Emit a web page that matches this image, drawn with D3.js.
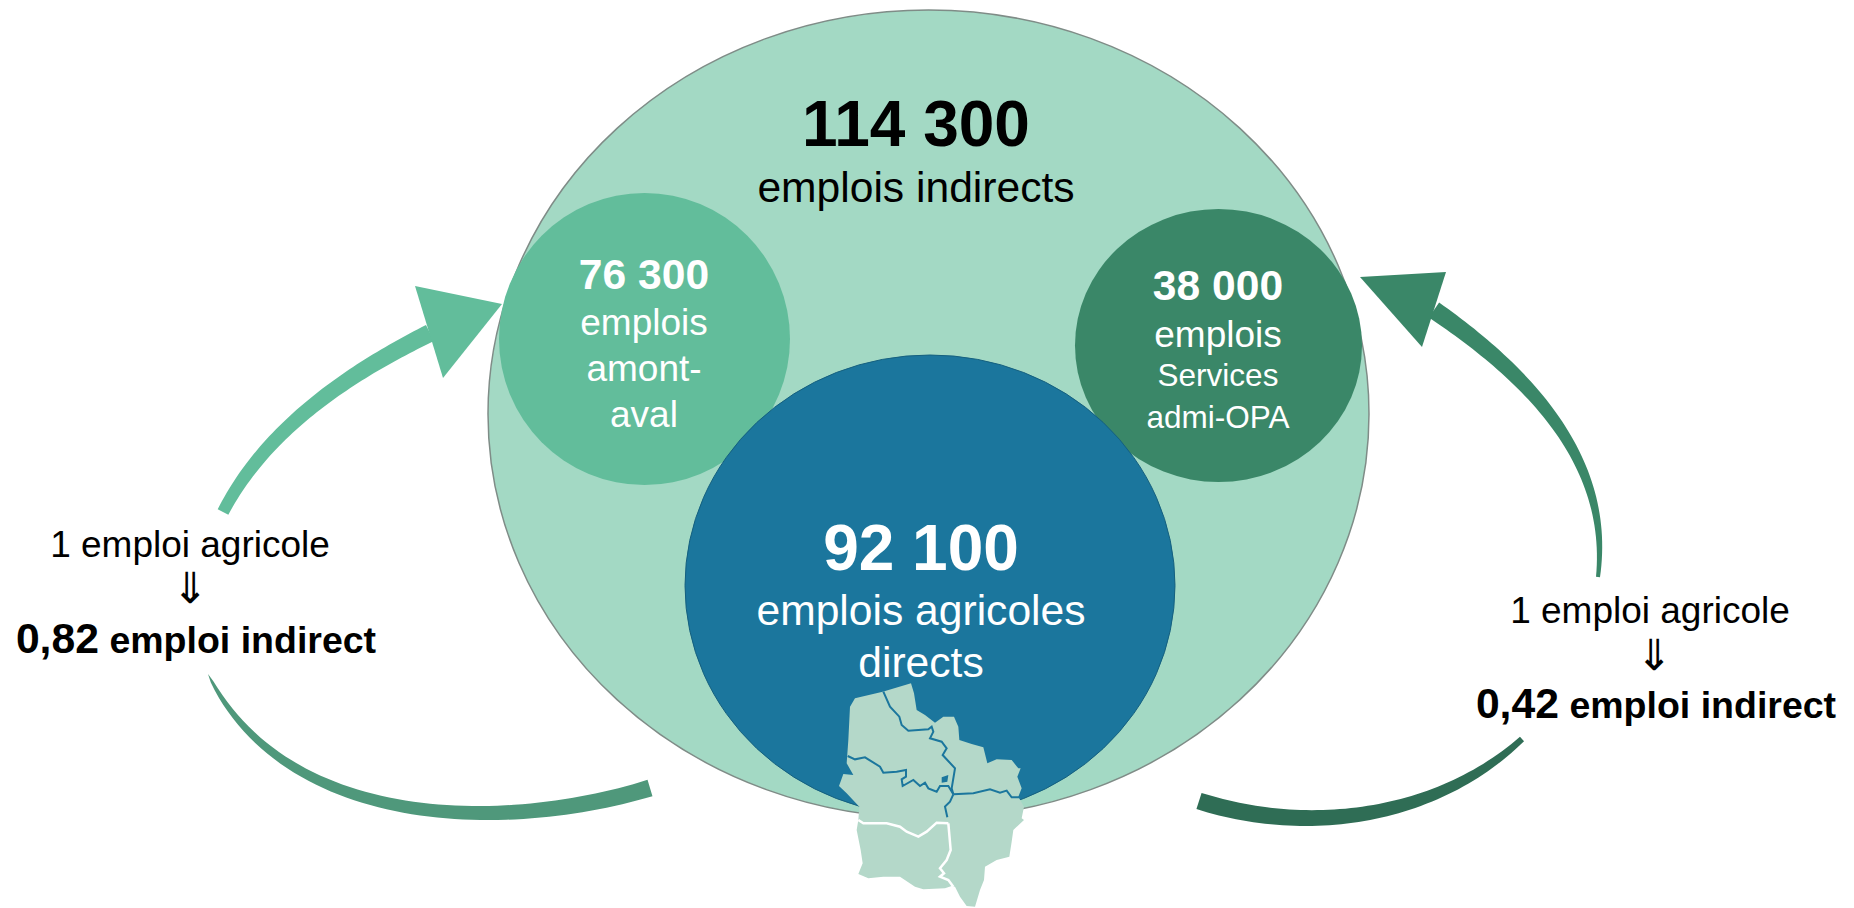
<!DOCTYPE html>
<html lang="fr">
<head>
<meta charset="utf-8">
<script src="https://cdn.jsdelivr.net/npm/d3@7"></script>
<style>
  html, body { margin: 0; padding: 0; background: #fff; }
  svg { display: block; }
  text { font-family: "Liberation Sans", Arial, sans-serif; }
</style>
</head>
<body>
<div id="chart"></div>
<script>
// values
const bubbleNames = ["indirects", "amont", "services", "directs"];
const bubbleColors = ["#a3d9c4", "#62bd9b", "#3a8768", "#1b769d"];
const bubbleBoxes = [[488, 1369, 10, 818], [499, 790, 193, 485], [1075, 1362, 209, 482], [685, 1175, 355, 816]];

// text lines: label, x, baseline, size, bold, colour
const labels = [
  ["114 300", 916, 146, 64, true, "#000"],
  ["emplois indirects", 916, 202, 42.6, false, "#000"],
  ["76 300", 644, 289, 42.6, true, "#fff"],
  ["emplois", 644, 335, 37, false, "#fff"],
  ["amont-", 644, 381, 37, false, "#fff"],
  ["aval", 644, 427, 37, false, "#fff"],
  ["38 000", 1218, 300, 42.6, true, "#fff"],
  ["emplois", 1218, 347, 37, false, "#fff"],
  ["Services", 1218, 386, 31.5, false, "#fff"],
  ["admi-OPA", 1218, 428, 31.5, false, "#fff"],
  ["92 100", 921, 570, 64, true, "#fff"],
  ["emplois agricoles", 921, 625, 42.6, false, "#fff"],
  ["directs", 921, 677, 42.6, false, "#fff"],
  ["1 emploi agricole", 190, 557, 37, false, "#000"],
  ["1 emploi agricole", 1650, 623, 37, false, "#000"]
];
const arrowSigns = [["⇓", 190, 603], ["⇓", 1654, 670]];
const ratios = [["0,82", " emploi indirect", 196, 653], ["0,42", " emploi indirect", 1656, 718]];

// arrow centre lines, with width at each end and how fast it changes
const leftUpCentre = [[223, 512], [260, 457], [345, 382], [430, 333]];
const rightUpCentre = [[1434, 310], [1495, 357], [1567, 440], [1598, 577]];
const leftLowCentre = [[208, 674], [280, 758], [480, 813], [650, 788]];
const rightLowCentre = [[1199, 801], [1303, 818], [1413, 802], [1522, 739]];
const leftUpHead = [[415, 286], [502, 304], [443, 378]];
const rightUpHead = [[1360, 277], [1446, 272], [1422, 347]];

// map traced on the 780 wide crop of the reference
const mapOutline = [[333,70],[342,100],[350,150],[375,165],[405,188],[430,170],[462,170],[475,200],[478,240],[515,252],[550,262],[562,310],[590,298],[635,300],[655,325],[662,325],[652,350],[665,385],[655,410],[672,440],[665,475],[672,480],[640,510],[635,545],[628,590],[590,600],[555,620],[552,660],[540,690],[525,740],[500,738],[480,710],[465,680],[455,678],[435,685],[370,688],[345,680],[300,650],[250,650],[205,655],[175,642],[188,610],[182,570],[170,510],[175,480],[178,440],[140,400],[117,378],[130,342],[160,345],[140,310],[145,240],[150,140],[165,115],[248,95]];
const blueLines = [
  [[250,95],[270,140],[298,170],[305,195],[325,212],[385,208],[395,200],[400,215],[390,235],[425,245],[440,265],[428,285],[465,325],[455,385],[460,403]],
  [[143,288],[165,298],[195,292],[240,320],[250,338],[290,335],[318,330],[318,350],[305,358],[308,378],[340,360],[360,378],[375,368],[385,385],[410,395],[420,378],[445,378],[460,403]],
  [[460,403],[520,400],[570,388],[600,398],[620,392],[635,412],[660,412]],
  [[460,403],[450,425],[435,440],[442,472]]
];
const mapLake = [[425,352],[445,345],[442,365],[425,368]];
const whiteLines = [
  [[175,480],[190,490],[260,490],[300,500],[320,515],[355,530],[380,515],[410,488],[445,490]],
  [[445,490],[452,570],[440,600],[420,625],[432,640],[420,650],[445,660],[460,680]]
];

const width = 1854;
const height = 908;

const svg = d3.select("#chart")
  .append("svg")
  .attr("width", width)
  .attr("height", height);

// circles
svg.selectAll("ellipse")
  .data(bubbleNames)
  .enter()
  .append("ellipse")
  .attr("class", d => d)
  .attr("cx", (d, i) => (bubbleBoxes[i][0] + bubbleBoxes[i][1]) / 2)
  .attr("cy", (d, i) => (bubbleBoxes[i][2] + bubbleBoxes[i][3]) / 2)
  .attr("rx", (d, i) => (bubbleBoxes[i][1] - bubbleBoxes[i][0]) / 2)
  .attr("ry", (d, i) => (bubbleBoxes[i][3] - bubbleBoxes[i][2]) / 2)
  .attr("fill", (d, i) => bubbleColors[i])
  .attr("stroke", d => d === "indirects" ? "#7f8c87" : (d === "directs" ? "#15607f" : "none"))
  .attr("stroke-width", d => d === "indirects" ? 1.5 : 1);

// smooth curve through the points, parameter by chord length
const curvePoint = (pts, u) => {
  const dist = [0];
  for (let i = 1; i < pts.length; i++) {
    dist.push(dist[i - 1] + Math.hypot(pts[i][0] - pts[i - 1][0], pts[i][1] - pts[i - 1][1]));
  }
  const t = u * dist[dist.length - 1];
  let x = 0, y = 0;
  pts.forEach((p, i) => {
    let k = 1;
    pts.forEach((q, j) => { if (j !== i) k *= (t - dist[j]) / (dist[i] - dist[j]); });
    x += k * p[0];
    y += k * p[1];
  });
  return [x, y];
};

// tapered band along a centre line
const ribbon = (pts, w0, w1, p) => {
  const left = [], right = [];
  d3.range(0, 61).forEach(i => {
    const u = i / 60;
    const a = curvePoint(pts, Math.max(0, u - 0.005));
    const b = curvePoint(pts, Math.min(1, u + 0.005));
    const c = curvePoint(pts, u);
    const len = Math.hypot(b[0] - a[0], b[1] - a[1]);
    const w = (w0 + (w1 - w0) * Math.pow(u, p)) / 2;
    left.push([c[0] - (b[1] - a[1]) / len * w, c[1] + (b[0] - a[0]) / len * w]);
    right.push([c[0] + (b[1] - a[1]) / len * w, c[1] - (b[0] - a[0]) / len * w]);
  });
  return d3.line()(left.concat(right.reverse())) + "Z";
};

const arrows = [
  [leftUpCentre, 12, 18, 1, "#62bd9b"],
  [rightUpCentre, 18, 4, 1.3, "#3a8768"],
  [leftLowCentre, 0, 17, 0.45, "#4f987b"],
  [rightLowCentre, 17, 6, 2, "#2f6d55"]
];
svg.selectAll(".arrow")
  .data(arrows)
  .enter()
  .append("path")
  .attr("class", "arrow")
  .attr("d", d => ribbon(d[0], d[1], d[2], d[3]))
  .attr("fill", d => d[4]);

svg.append("polygon").attr("points", leftUpHead.join(" ")).attr("fill", "#62bd9b");
svg.append("polygon").attr("points", rightUpHead.join(" ")).attr("fill", "#3a8768");

// map
const mapX = d3.scaleLinear().domain([0, 780]).range([800, 1060]);
const mapY = d3.scaleLinear().domain([0, 744]).range([660, 908]);
const mapLine = d3.line().x(d => mapX(d[0])).y(d => mapY(d[1]));

svg.append("path")
  .attr("d", mapLine(mapOutline) + "Z")
  .attr("fill", "#b4d8c9");
svg.append("path")
  .attr("d", mapLine(mapLake) + "Z")
  .attr("fill", "#1b769d");
svg.selectAll(".river")
  .data(blueLines)
  .enter()
  .append("path")
  .attr("class", "river")
  .attr("d", mapLine)
  .attr("fill", "none")
  .attr("stroke", "#1b769d")
  .attr("stroke-width", 2);
svg.selectAll(".limit")
  .data(whiteLines)
  .enter()
  .append("path")
  .attr("class", "limit")
  .attr("d", mapLine)
  .attr("fill", "none")
  .attr("stroke", "#fff")
  .attr("stroke-width", 2.5);

// text
svg.selectAll(".label")
  .data(labels)
  .enter()
  .append("text")
  .attr("class", "label")
  .attr("x", d => d[1])
  .attr("y", d => d[2])
  .attr("text-anchor", "middle")
  .attr("font-size", d => d[3])
  .attr("font-weight", d => d[4] ? "bold" : "normal")
  .attr("fill", d => d[5])
  .text(d => d[0]);

svg.selectAll(".sign")
  .data(arrowSigns)
  .enter()
  .append("text")
  .attr("class", "sign")
  .attr("x", d => d[1])
  .attr("y", d => d[2])
  .attr("text-anchor", "middle")
  .attr("font-size", 43)
  .style("font-family", "'DejaVu Sans'")
  .text(d => d[0]);

const ratio = svg.selectAll(".ratio")
  .data(ratios)
  .enter()
  .append("text")
  .attr("class", "ratio")
  .attr("x", d => d[2])
  .attr("y", d => d[3])
  .attr("text-anchor", "middle")
  .attr("font-weight", "bold")
  .style("white-space", "pre");
ratio.append("tspan").attr("font-size", 42.7).text(d => d[0]);
ratio.append("tspan").attr("font-size", 37.5).text(d => d[1]);
</script>
</body>
</html>
